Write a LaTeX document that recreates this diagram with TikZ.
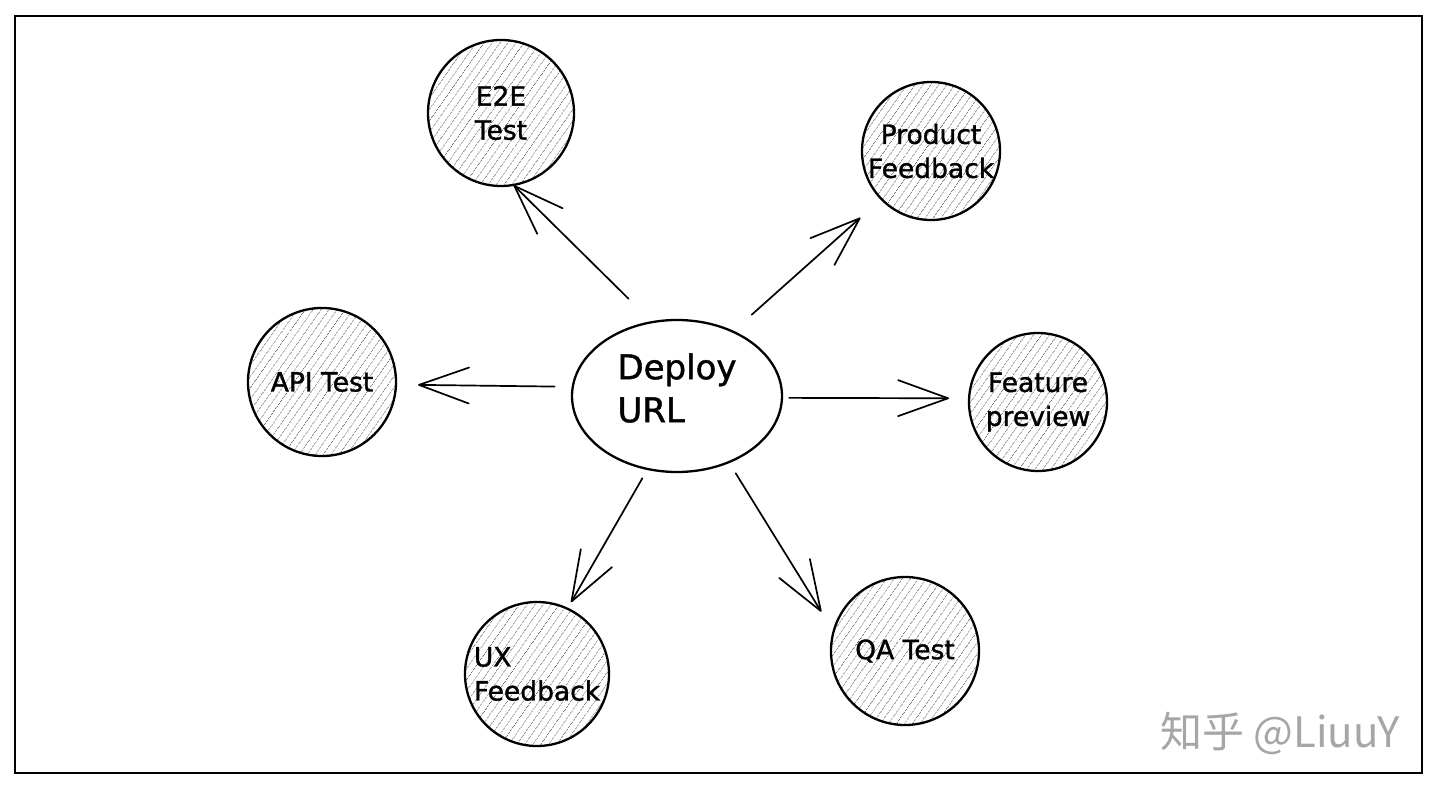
\documentclass[tikz,border=0pt]{standalone}
\usepackage{fontspec}
\setmainfont{DejaVu Sans}
\newfontfamily\handfont[AutoFakeBold=1.3]{DejaVu Sans}
\newfontfamily\cjkfont{Noto Sans CJK SC}
\usetikzlibrary{shapes.geometric,arrows.meta,patterns.meta}
\begin{document}
\begin{tikzpicture}[x=1pt,y=-1pt,
  hatched/.style={circle, draw=black, line width=2.3pt, inner sep=0pt, align=center,
    font=\handfont\bfseries\fontsize{26.5}{34}\selectfont,
    pattern={Lines[angle=55,distance=6.5pt,line width=0.85pt]}, pattern color=black!55},
  hub/.style={ellipse, draw=black, line width=2.3pt, inner sep=0pt},
  hubtext/.style={font=\handfont\bfseries\fontsize{34}{43}\selectfont, align=left, inner sep=0pt},
  arr/.style={-{Straight Barb[length=50pt,width=36pt,line cap=round,line join=round]},
    line width=1.7pt, line cap=round},
  frame/.style={draw=black, line width=2.5pt},
  wmark/.style={font=\cjkfont\fontsize{42}{42}\selectfont, text=black!35}]
\fill[white] (0,0) rectangle (1440,791);
\useasboundingbox (0,0) rectangle (1440,791);
\draw[frame] (15,16) rectangle (1422,773);

\node[hatched, minimum size=146pt] (e2e) at (501,113) {E2E\\Test};
\node[hatched, minimum size=138pt] (product) at (931,151) {Product\\Feedback};
\node[hatched, minimum size=148pt] (api) at (322,382) {API Test};
\node[hatched, minimum size=138pt] (feature) at (1038,402) {Feature\\preview};
\node[hatched, minimum size=144pt, align=left] (ux) at (537,674) {UX\\Feedback};
\node[hatched, minimum size=148pt] (qa) at (905,651) {QA Test};
\node[hub, minimum width=210pt, minimum height=152pt] (deploy) at (677,396) {};
\node[hubtext] (deploytxt) at (677,388) {Deploy\\URL};

\draw[arr, shorten <=32pt] (deploy.109.6) -- (e2e.-80.5);
\draw[arr, shorten <=24pt, shorten >=27pt] (deploy.49.8) -- (product.-136);
\draw[arr, shorten <=17pt, shorten >=21pt] (deploy.175.2) -- (api.-2.1);
\draw[arr, shorten <=6pt, shorten >=19pt] (deploy.-1.1) -- (feature.177.6);
\draw[arr, shorten <=9.5pt, shorten >=6.3pt] (deploy.-112.6) -- (ux.65.5);
\draw[arr, shorten <=12pt, shorten >=21.8pt] (deploy.-52.9) -- (qa.164.7);

\node[wmark] (wm) at (1280,733) {知乎 @LiuuY};
\end{tikzpicture}
\end{document}
